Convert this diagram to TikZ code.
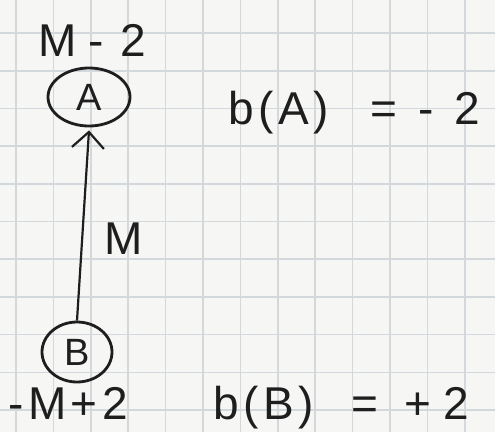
\documentclass[tikz,border=0pt]{standalone}
\usepackage{fontspec}
\setmainfont{Liberation Sans}
\newfontfamily\handfont[LetterSpace=10]{Liberation Sans}
\usetikzlibrary{shapes.geometric,arrows.meta}
\definecolor{paper}{HTML}{F6F6F4}
\definecolor{gridc}{HTML}{D2D8DB}
\definecolor{ink}{HTML}{1E1E1E}
\tikzset{
  hand/.style={font=\handfont\fontsize{46}{48}\selectfont, text=ink, inner sep=0pt},
  vert/.style={draw=ink, line width=2.8pt, ellipse, inner sep=0pt, font=\handfont\fontsize{38}{40}\selectfont, text=ink},
  edge/.style={draw=ink, line width=2.2pt, -{Straight Barb[length=16pt,width=32pt,line width=2.2pt]}}
}
\begin{document}
\begin{tikzpicture}[x=1pt,y=-1pt]
\useasboundingbox (0,0) rectangle (495,432);
\fill[paper] (0,0) rectangle (495,432);
\foreach \i in {0,...,12} \draw[gridc, line width=1.6pt] ({16+37.4*\i},0) -- ({16+37.4*\i},432);
\foreach \j in {0,...,10} \draw[gridc, line width=1.6pt] (0,{33+37.7*\j}) -- (495,{33+37.7*\j});
\node[vert, minimum width=82pt, minimum height=58pt] (A) at (89,97) {A};
\node[vert, minimum width=70pt, minimum height=60pt] (B) at (77,352) {B};
\node[hand, anchor=base west] (pA) at (38,56) {M\hspace{12pt}-\hspace{17pt}2};
\node[hand, anchor=base west] (pB) at (8,419) {-M+2};
\node[hand, anchor=base west] (lM) at (104,254) {M};
\node[hand, anchor=base west] (bA) at (228,124) {b(A)\hspace{42pt}=\hspace{21pt}-\hspace{20pt}2};
\node[hand, anchor=base west] (bB) at (213,419) {b(B)\hspace{38pt}=\hspace{26pt}+\hspace{12pt}2};
\draw[edge] (B.north) -- ([yshift=-3pt]A.south);
\end{tikzpicture}
\end{document}
